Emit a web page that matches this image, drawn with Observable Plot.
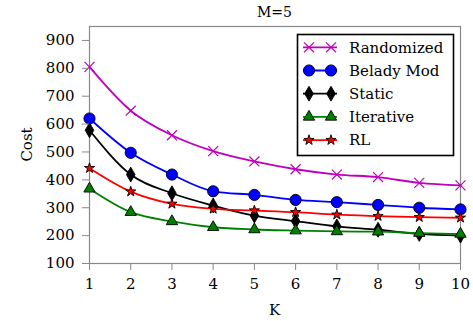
<!DOCTYPE html>
<html><head><meta charset="utf-8">
<script src="https://cdn.jsdelivr.net/npm/d3@7"></script>
<script src="https://cdn.jsdelivr.net/npm/@observablehq/plot@0.6"></script>
<style>body{margin:0;background:#fff}svg, svg text{font-family:"DejaVu Serif",serif !important}</style>
</head><body><div id="chart"></div>
<script>
const K = [1,2,3,4,5,6,7,8,9,10];
const randomized = [805,648,560,503,466,438,419,410,389,380];
const beladyMod  = [620,497,419,359,346,328,320,310,300,294];
const staticS    = [578,419,352,308,272,252,233,221,206,200];
const iterative  = [368,284,251,230,222,218,215,214,209,206];
const rl         = [442,358,314,296,290,284,275,270,266,264];
const yTicks = [100,200,300,400,500,600,700,800,900];

const series = [
  {name:"Randomized", values:randomized, color:"#bf00bf", symbol:"times", r:4.6, fill:"none", stroke:"#bf00bf"},
  {name:"Belady Mod", values:beladyMod, color:"#0000ff", symbol:"circle", r:5.6, fill:"#0000ff", stroke:"#000"},
  {name:"Static", values:staticS, color:"#000000", symbol:"diamond", r:4.5, fill:"#000", stroke:"#000"},
  {name:"Iterative", values:iterative, color:"#008000", symbol:"triangle", r:4.2, fill:"#008000", stroke:"#000"},
  {name:"RL", values:rl, color:"#ff0000", symbol:"star", r:3.2, fill:"#ff0000", stroke:"#000"}
];

const marks = [Plot.frame({stroke:"#888", strokeWidth:1.2})];
for (const s of series) {
  const data = K.map((k,i)=>({K:k, v:s.values[i]}));
  marks.push(Plot.line(data,{x:"K",y:"v",stroke:s.color,strokeWidth:1.8,curve:"monotone-x"}));
  marks.push(Plot.dot(data,{x:"K",y:"v",symbol:()=>s.symbol,r:s.r,fill:s.fill,stroke:s.stroke,strokeWidth:s.symbol==="times"?1.2:0.9}));
}
marks.push(Plot.axisX({ticks:K, tickSize:7, tickPadding:8, stroke:"#888", label:null, fontSize:15}));
marks.push(Plot.axisY({ticks:yTicks, tickSize:7, tickPadding:8, stroke:"#888", label:null, fontSize:15}));

const plot = Plot.plot({
  width:473, height:321,
  marginLeft:89, marginRight:13, marginTop:26, marginBottom:58,
  style:{fontFamily:"DejaVu Serif", fontSize:"15px", color:"#000", background:"#fff"},
  x:{domain:[1,10]},
  y:{domain:[100,950]},
  symbol:{type:"identity"},
  marks
});
document.getElementById("chart").appendChild(plot);

const FF = "DejaVu Serif";
const svg = d3.select(plot);
svg.append("text").attr("x",274.5).attr("y",17).attr("text-anchor","middle").attr("font-family",FF).attr("font-size",14).attr("fill","#000").text("M=5");
svg.append("text").attr("x",274.5).attr("y",315).attr("text-anchor","middle").attr("font-family",FF).attr("font-size",15).attr("fill","#000").text("K");
svg.append("text").attr("transform","translate(32,144.5) rotate(-90)").attr("text-anchor","middle").attr("font-family",FF).attr("font-size",15).attr("fill","#000").text("Cost");

const symMap = {times:d3.symbolTimes, circle:d3.symbolCircle, diamond:d3.symbolDiamond, triangle:d3.symbolTriangle, star:d3.symbolStar};
const lg = svg.append("g");
lg.append("rect").attr("x",297.5).attr("y",34.5).attr("width",156).attr("height",121).attr("fill","#fff").attr("stroke","#000").attr("stroke-width",1.6);
series.forEach((s,i)=>{
  const y = 47.3 + i*23.2;
  lg.append("line").attr("x1",303).attr("x2",337).attr("y1",y).attr("y2",y).attr("stroke",s.color).attr("stroke-width",1.8);
  for (const x of [309,331]) {
    lg.append("path").attr("transform",`translate(${x},${y})`)
      .attr("d",d3.symbol(symMap[s.symbol], s.r*s.r*Math.PI)())
      .attr("fill",s.fill).attr("stroke",s.stroke).attr("stroke-width",s.symbol==="times"?1.2:0.9);
  }
  lg.append("text").attr("x",349).attr("y",y).attr("dy","0.35em").attr("text-anchor","start").attr("font-family",FF).attr("font-size",15).attr("fill","#000").text(s.name);
});
</script></body></html>
